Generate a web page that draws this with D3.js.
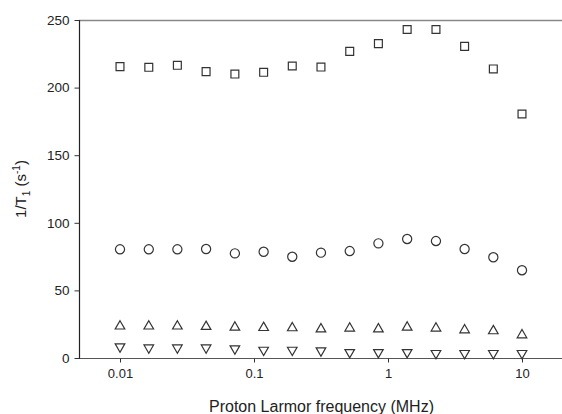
<!DOCTYPE html>
<html><head><meta charset="utf-8">
<script src="https://cdn.jsdelivr.net/npm/d3@7"></script>
<style>
html,body{margin:0;padding:0;background:#fff;}
svg{display:block;font-family:"Liberation Sans",Arial,sans-serif;}
</style></head>
<body><svg id="c" width="562" height="414"></svg>
<script>
const freqs = [0.01, 0.0164, 0.0268, 0.0439, 0.0720, 0.118, 0.193, 0.316, 0.518, 0.848, 1.39, 2.28, 3.73, 6.11, 10];
const squares = [215.5, 215, 216.5, 211.8, 210, 211.3, 216, 215.2, 226.8, 232.5, 243, 243, 230.5, 213.8, 180.5];
const circles = [80.4, 80.4, 80.4, 80.6, 77.4, 78.6, 74.9, 77.9, 79.1, 84.8, 88, 86.5, 80.6, 74.5, 64.9];
const trisUp = [23.5, 23.5, 23.5, 23.2, 22.7, 22.4, 22.2, 21.4, 22, 21.4, 22.7, 22, 20.7, 20, 17];
const trisDown = [8.4, 7.6, 7.6, 7.6, 6.9, 5.9, 5.9, 5.4, 4.2, 4.2, 4.2, 3.5, 3.5, 3.5, 3.5];
const xTicks = [0.01, 0.1, 1, 10];
const xTickLabels = ["0.01", "0.1", "1", "10"];
const yTicks = [0, 50, 100, 150, 200, 250];

const svg = d3.select("#c");
const L = 79, R = 562, T = 20, B = 358;
const x = d3.scaleLog().domain([0.01, 10]).range([120, 522]);
const y = d3.scaleLinear().domain([0, 250]).range([B, T]);

// frame lines
svg.append("line").attr("x1", L).attr("x2", R).attr("y1", T + 0.5).attr("y2", T + 0.5)
  .attr("stroke", "#888").attr("stroke-width", 1.3);
svg.append("line").attr("x1", L).attr("x2", R).attr("y1", B + 0.5).attr("y2", B + 0.5)
  .attr("stroke", "#555").attr("stroke-width", 1.2);
svg.append("line").attr("x1", L + 0.5).attr("x2", L + 0.5).attr("y1", T).attr("y2", B + 1)
  .attr("stroke", "#222").attr("stroke-width", 1.2);

// x axis
const xa = svg.append("g").attr("transform", `translate(0,${B + 0.5})`)
  .call(d3.axisBottom(x).tickValues(xTicks).tickFormat((d, i) => xTickLabels[i]).tickSize(4).tickPadding(6));
xa.select(".domain").remove();
xa.selectAll("line").attr("stroke", "#333");
xa.selectAll("text").attr("font-size", 13).attr("fill", "#222")
  .attr("font-family", "Liberation Sans, Arial, sans-serif");

// y axis
const ya = svg.append("g").attr("transform", `translate(${L + 0.5},0)`)
  .call(d3.axisLeft(y).tickValues(yTicks).tickSize(5).tickPadding(5));
ya.select(".domain").remove();
ya.selectAll("line").attr("stroke", "#333");
ya.selectAll("text").attr("font-size", 13.5).attr("fill", "#222")
  .attr("font-family", "Liberation Sans, Arial, sans-serif");

// titles
svg.append("text").attr("x", 321.5).attr("y", 412).attr("text-anchor", "middle")
  .attr("font-size", 16).attr("fill", "#222").text("Proton Larmor frequency (MHz)");

const yl = svg.append("text").attr("transform", `translate(26,${(T + B) / 2}) rotate(-90)`)
  .attr("text-anchor", "middle").attr("font-size", 15).attr("fill", "#222");
yl.append("tspan").text("1/T");
yl.append("tspan").attr("font-size", 10).attr("dy", 4).text("1");
yl.append("tspan").attr("dy", -4).text(" (s");
yl.append("tspan").attr("font-size", 10).attr("dy", -6).text("-1");
yl.append("tspan").attr("dy", 6).text(")");

// markers
function drawSeries(vals, type, size, rot) {
  const sym = d3.symbol().type(type).size(size);
  svg.append("g").selectAll("path").data(vals).join("path")
    .attr("d", sym)
    .attr("transform", (d, i) => `translate(${x(freqs[i])},${y(d)}) rotate(${rot})`)
    .attr("fill", "none").attr("stroke", "#333").attr("stroke-width", 1.2);
}
drawSeries(squares, d3.symbolSquare, 62, 0);
drawSeries(circles, d3.symbolCircle, 66, 0);
drawSeries(trisUp, d3.symbolTriangle, 40, 0);
drawSeries(trisDown, d3.symbolTriangle, 40, 180);
</script></body></html>
